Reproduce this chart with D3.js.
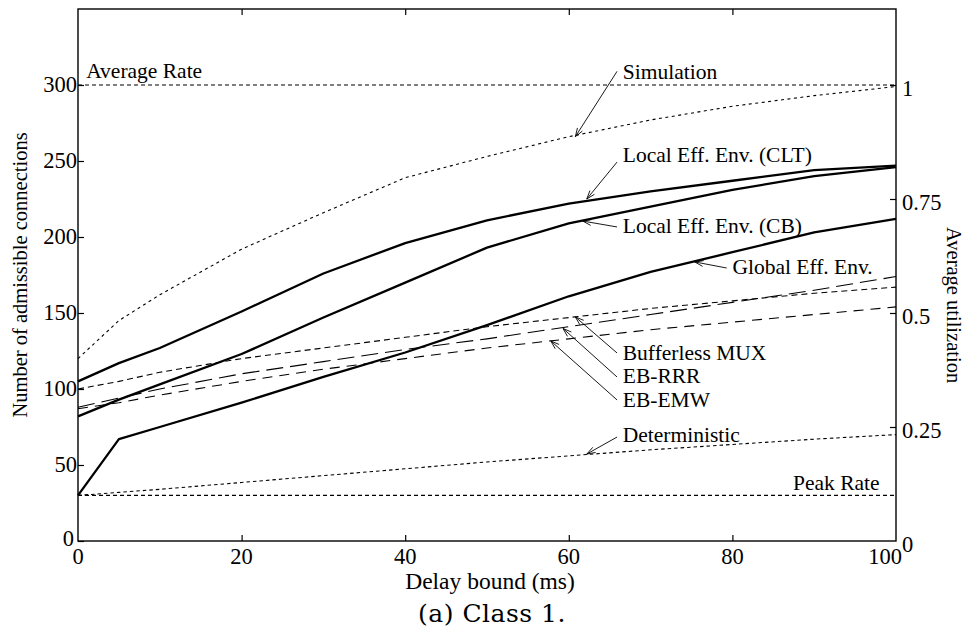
<!DOCTYPE html>
<html>
<head>
<meta charset="utf-8">
<script src="https://cdn.jsdelivr.net/npm/d3@7"></script>
<style>
body { margin: 0; background: #fff; }
text { font-family: "Liberation Serif", "Times New Roman", serif; fill: #000; }
</style>
</head>
<body>
<script>
// delay bound (ms) where the curves were sampled
const delays = [0, 5, 10, 20, 30, 40, 50, 60, 70, 80, 90, 100];

// number of admissible connections
const simulation    = [120, 145, 162, 192, 216, 239, 253, 266, 277, 286, 293, 299];
const localCLT      = [105, 117, 127, 151, 176, 196, 211, 222, 230, 237, 244, 247];
const localCB       = [82, 93, 103, 123, 147, 170, 193, 209, 220, 231, 240, 246];
const globalEnv     = [30, 67, 75, 91, 108, 124, 142, 161, 177, 190, 203, 212];
const bufferless    = [100, 105, 111, 120, 127, 134, 141, 147, 153, 158, 163, 167];
const ebRRR         = [88, 94, 100, 110, 118, 126, 133, 141, 149, 157, 165, 174];
const ebEMW         = [87, 91, 96, 105, 113, 120, 127, 133, 139, 144, 149, 154];
const deterministic = [30, 32, 34, 38.5, 43, 47.5, 52, 56, 60, 63.5, 67, 70];
const averageRate = 300;
const peakRate = 30;

const xTicks = [0, 20, 40, 60, 80, 100];
const yTicks = [0, 50, 100, 150, 200, 250, 300];
const utilTicks = [0, 0.25, 0.5, 0.75, 1];
const utilLabels = ["0", "0.25", "0.5", "0.75", "1"];

// label text, text anchor point, arrow start, arrow tip (data units)
const notes = [
  {label: "Simulation", tx: 66.6, ty: 304, sx: 65.9, sy: 309, ex: 60.8, ey: 266},
  {label: "Local Eff. Env. (CLT)", tx: 66.6, ty: 249.3, sx: 65.9, sy: 249.3, ex: 62.2, ey: 225},
  {label: "Local Eff. Env. (CB)", tx: 66.6, ty: 202.6, sx: 65.9, sy: 206.6, ex: 61.7, ey: 210.5},
  {label: "Global Eff. Env.", tx: 80, ty: 175.7, sx: 79.3, sy: 179.6, ex: 75.4, ey: 183.6},
  {label: "Bufferless MUX", tx: 66.6, ty: 119.1, sx: 65.9, sy: 123.7, ex: 60.8, ey: 147.4},
  {label: "EB-RRR", tx: 66.6, ty: 103.9, sx: 65.9, sy: 107.9, ex: 59.3, ey: 139.8},
  {label: "EB-EMW", tx: 66.6, ty: 88.2, sx: 65.9, sy: 92.8, ex: 57.8, ey: 131.6},
  {label: "Deterministic", tx: 66.6, ty: 65.1, sx: 65.9, sy: 68.4, ex: 62.2, ey: 57.2}
];

const width = 978, height = 631;
const m = {left: 78, right: 896, top: 9, bottom: 541};

const x = d3.scaleLinear().domain([0, 100]).range([m.left, m.right]);
const y = d3.scaleLinear().domain([0, 350]).range([m.bottom, m.top]);
const yUtil = d3.scaleLinear().domain([0, 350 / 300]).range([m.bottom, m.top]);

const svg = d3.select("body").append("svg")
  .attr("width", width)
  .attr("height", height)
  .style("display", "block");

const line = d3.line().x(d => x(d[0])).y(d => y(d[1]));

const series = [
  {values: simulation, w: 1.1, dash: "3,3.5"},
  {values: deterministic, w: 1.1, dash: "3.5,3"},
  {values: bufferless, w: 1.1, dash: "6,4"},
  {values: ebRRR, w: 1.1, dash: "17,7"},
  {values: ebEMW, w: 1.1, dash: "10,7"},
  {values: globalEnv, w: 2.3, dash: null},
  {values: localCB, w: 2.3, dash: null},
  {values: localCLT, w: 2.3, dash: null}
];

// reference rates
svg.selectAll("path.rate")
  .data([averageRate, peakRate])
  .join("path")
  .attr("class", "rate")
  .attr("d", v => line([[0, v], [100, v]]))
  .attr("fill", "none")
  .attr("stroke", "#000")
  .attr("stroke-width", 1.1)
  .attr("stroke-dasharray", "4,3");

svg.selectAll("path.curve")
  .data(series)
  .join("path")
  .attr("class", "curve")
  .attr("d", s => line(delays.map((d, i) => [d, s.values[i]])))
  .attr("fill", "none")
  .attr("stroke", "#000")
  .attr("stroke-width", s => s.w)
  .attr("stroke-dasharray", s => s.dash)
  .attr("stroke-linejoin", "round");

// frame
svg.append("rect")
  .attr("x", m.left).attr("y", m.top)
  .attr("width", m.right - m.left).attr("height", m.bottom - m.top)
  .attr("fill", "none").attr("stroke", "#000").attr("stroke-width", 1.4);

const tk = 6;
const axisLeft = svg.append("g").attr("transform", `translate(${m.left},0)`)
  .call(d3.axisRight(y).tickValues(yTicks).tickSize(tk).tickFormat(""));
const axisBottom = svg.append("g").attr("transform", `translate(0,${m.bottom})`)
  .call(d3.axisTop(x).tickValues(xTicks.slice(1, -1)).tickSize(tk).tickFormat(""));
const axisTop = svg.append("g").attr("transform", `translate(0,${m.top})`)
  .call(d3.axisBottom(x).tickValues(xTicks.slice(1, -1)).tickSize(tk).tickFormat(""));
const axisRight = svg.append("g").attr("transform", `translate(${m.right},0)`)
  .call(d3.axisLeft(yUtil).tickValues(utilTicks.slice(1)).tickSize(tk).tickFormat(""));
[axisLeft, axisBottom, axisTop, axisRight].forEach(g => {
  g.select(".domain").remove();
  g.selectAll("line").attr("stroke", "#000").attr("stroke-width", 1.2);
});

// tick labels
svg.append("g").selectAll("text")
  .data(yTicks).join("text")
  .attr("x", d => m.left - (d === 0 ? 4 : 1)).attr("y", d => y(d))
  .attr("dy", d => d === 0 ? "0.2em" : "0.3em")
  .attr("text-anchor", "end")
  .attr("font-size", 22.5)
  .text(d => d);

svg.append("g").selectAll("text")
  .data(xTicks).join("text")
  .attr("x", d => x(d) - (d === 100 ? 11 : 0)).attr("y", 564)
  .attr("text-anchor", "middle")
  .attr("font-size", 22.5)
  .text(d => d);

svg.append("g").selectAll("text")
  .data(utilTicks).join("text")
  .attr("x", m.right + 6).attr("y", d => yUtil(d))
  .attr("dy", "0.5em")
  .attr("font-size", 22.5)
  .text((d, i) => utilLabels[i]);

// axis titles
svg.append("text")
  .attr("transform", `translate(27,${(m.top + m.bottom) / 2}) rotate(-90)`)
  .attr("text-anchor", "middle")
  .attr("font-size", 20.5)
  .text("Number of admissible connections");

svg.append("text")
  .attr("transform", `translate(947,227) rotate(90)`)
  .attr("font-size", 20.5)
  .text("Average utilization");

svg.append("text")
  .attr("x", 490).attr("y", 589)
  .attr("text-anchor", "middle")
  .attr("font-size", 23.5)
  .text("Delay bound (ms)");

svg.append("text")
  .attr("x", 492).attr("y", 622)
  .attr("text-anchor", "middle")
  .attr("font-size", 25)
  .style("font-family", "'DejaVu Serif', serif")
  .style("font-weight", 300)
  .attr("letter-spacing", 0.5)
  .text("(a) Class 1.");

// rate labels
svg.append("text")
  .attr("x", x(1)).attr("y", y(304.6))
  .attr("font-size", 21.5)
  .text("Average Rate");
svg.append("text")
  .attr("x", x(98)).attr("y", y(33.6))
  .attr("text-anchor", "end")
  .attr("font-size", 21.5)
  .text("Peak Rate");

// annotations with open arrowheads
const ann = svg.append("g");
notes.forEach(n => {
  ann.append("text")
    .attr("x", x(n.tx)).attr("y", y(n.ty))
    .attr("font-size", 21.5)
    .text(n.label);
  const x1 = x(n.sx), y1 = y(n.sy), x2 = x(n.ex), y2 = y(n.ey);
  const a = Math.atan2(y1 - y2, x1 - x2);
  const L = 9, w = 0.33;
  const head = d3.path();
  head.moveTo(x1, y1); head.lineTo(x2, y2);
  head.moveTo(x2 + L * Math.cos(a + w), y2 + L * Math.sin(a + w));
  head.lineTo(x2, y2);
  head.lineTo(x2 + L * Math.cos(a - w), y2 + L * Math.sin(a - w));
  ann.append("path")
    .attr("d", head.toString())
    .attr("fill", "none")
    .attr("stroke", "#000")
    .attr("stroke-width", 0.9);
});
</script>
</body>
</html>
